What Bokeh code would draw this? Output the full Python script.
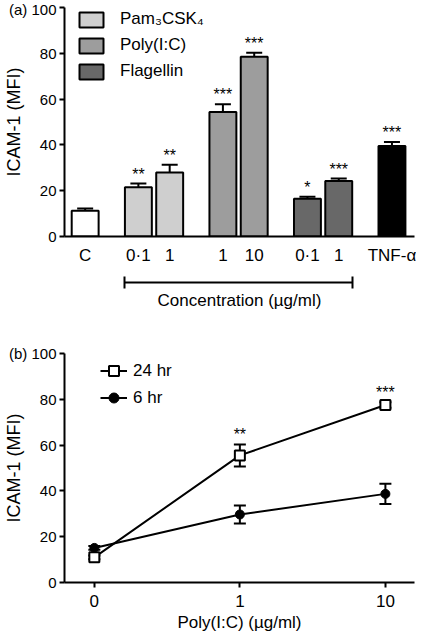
from bokeh.plotting import figure
from bokeh.models import (ColumnDataSource, Whisker, TeeHead, FixedTicker, LinearAxis,
                          Legend, LegendItem, Range1d)
from bokeh.layouts import column
from bokeh.embed import file_html
from bokeh.resources import INLINE
from bokeh.core.properties import value

# ---------------- data: panel (a) ----------------
groups_a = ["Control", "Pam\u2083CSK\u2084", "Poly(I:C)", "Flagellin", "TNF-\u03b1"]
group_of_bar = [0, 1, 1, 2, 2, 3, 3, 4]
tick_labels_a = ["C", "0\u00b71", "1", "1", "10", "0\u00b71", "1", "TNF-\u03b1"]
mfi_a = [11.2, 21.5, 28.0, 54.4, 78.5, 16.5, 24.2, 39.5]
sem_a = [1.0, 1.6, 3.3, 3.3, 1.7, 0.9, 1.1, 1.8]
stars_a = ["", "**", "**", "***", "***", "*", "***", "***"]
group_colors = ["#ffffff", "#cfcfcf", "#9d9d9d", "#686868", "#000000"]
legend_groups = [1, 2, 3]
concentration_groups = [1, 2, 3]
y_ticks = [0, 20, 40, 60, 80, 100]

# ---------------- data: panel (b) ----------------
doses_b = ["0", "1", "10"]
mfi_24h = [11.0, 55.5, 77.5]
sem_24h = [0.8, 4.8, 1.2]
mfi_6h = [15.1, 29.7, 38.7]
sem_6h = [0.8, 3.9, 4.4]
stars_24h = ["", "**", "***"]

FONT = "Liberation Sans"
GROUP_GAP = 0.7
BAR_W = 0.86
FRAME_W = 350
FRAME_H = 229


def style(p, panel_tag):
    p.xgrid.visible = False
    p.ygrid.visible = False
    p.outline_line_color = None
    p.background_fill_color = "white"
    ax = p.yaxis[0]
    ax.ticker = FixedTicker(ticks=y_ticks)
    # panel tag "(a)" / "(b)" sits left of the top tick label, as in the figure
    ax.major_label_overrides = {y_ticks[-1]: f"{panel_tag} {y_ticks[-1]}"}
    ax.axis_line_width = 2
    ax.major_tick_line_width = 2
    ax.major_tick_in = 0
    ax.major_tick_out = 5
    ax.minor_tick_line_color = None
    ax.major_label_text_font = FONT
    ax.major_label_text_font_size = "15px"
    ax.major_label_text_color = "black"
    ax.major_label_standoff = 3
    ax.axis_label = "ICAM-1 (MFI)"
    ax.axis_label_text_font = FONT
    ax.axis_label_text_font_size = "18px"
    ax.axis_label_text_font_style = "normal"
    ax.axis_label_text_color = "black"
    ax.axis_label_standoff = -18
    xa = p.xaxis[0]
    xa.axis_line_width = 2
    xa.major_tick_line_width = 2
    xa.minor_tick_line_color = None
    xa.major_label_text_font = FONT
    xa.major_label_text_font_size = "17px"
    xa.major_label_text_color = "black"
    xa.axis_label_text_font = FONT
    xa.axis_label_text_font_size = "17px"
    xa.axis_label_text_font_style = "normal"
    xa.axis_label_text_color = "black"


# ================= panel (a) =================
pos_a = [i + GROUP_GAP * g for i, g in enumerate(group_of_bar)]
src_a = ColumnDataSource(dict(
    x=pos_a, top=mfi_a, upper=[m + s for m, s in zip(mfi_a, sem_a)],
    color=[group_colors[g] for g in group_of_bar], stars=stars_a))

p1 = figure(frame_width=FRAME_W, frame_height=FRAME_H,
            x_range=Range1d(pos_a[0] - 0.66, pos_a[-1] + 0.72), y_range=Range1d(0, 100),
            output_backend="svg", toolbar_location=None,
            min_border_left=58, min_border_right=2, min_border_top=7, min_border_bottom=0)
style(p1, "(a)")

bars = p1.vbar(x="x", top="top", bottom=0, width=BAR_W, fill_color="color",
               line_color="black", line_width=2, source=src_a)
p1.add_layout(Whisker(source=src_a, base="x", lower="top", upper="upper", line_width=2,
                      upper_head=TeeHead(size=16, line_width=2), lower_head=None))
p1.text(x="x", y="upper", text="stars", source=src_a, text_align="center",
        text_baseline="bottom", y_offset=-1, text_font=value(FONT), text_font_size="16px",
        text_color="black")

xa = p1.xaxis[0]
xa.ticker = FixedTicker(ticks=pos_a)
xa.major_label_overrides = {p: t for p, t in zip(pos_a, tick_labels_a)}
xa.major_tick_in = 0
xa.major_tick_out = 0
xa.major_label_standoff = 9

# empty band between the tick labels and the concentration bracket
gap = LinearAxis(ticker=FixedTicker(ticks=[]), axis_line_color=None, major_tick_in=0,
                 major_tick_out=0, major_tick_line_color=None, minor_tick_line_color=None,
                 major_label_standoff=0, major_label_text_color=None,
                 axis_label="\u00a0", axis_label_text_color=None,
                 axis_label_text_font=FONT, axis_label_text_font_size="11px",
                 axis_label_standoff=0)
p1.add_layout(gap, "below")

conc_pos = [x for x, g in zip(pos_a, group_of_bar) if g in concentration_groups]
b0, b1 = conc_pos[0] - BAR_W / 2, conc_pos[-1] + BAR_W / 2
bracket = LinearAxis(ticker=FixedTicker(ticks=[b0, b1]), bounds=(b0, b1),
                     axis_line_width=2, major_tick_line_width=2, major_tick_in=6,
                     major_tick_out=6, minor_tick_line_color=None,
                     major_label_text_font_size="1px", major_label_text_color=None,
                     major_label_standoff=0,
                     axis_label="Concentration (\u00b5g/ml)", axis_label_standoff=2,
                     axis_label_text_font=FONT, axis_label_text_font_size="17px",
                     axis_label_text_font_style="normal", axis_label_text_color="black")
p1.add_layout(bracket, "below")

items_a = [LegendItem(label=groups_a[g], renderers=[bars], index=group_of_bar.index(g))
           for g in legend_groups]
leg_a = Legend(items=items_a, location=(12, 155), padding=0, margin=0,
               glyph_width=30, glyph_height=19, label_standoff=14, spacing=6,
               label_text_font=FONT, label_text_font_size="17px", label_text_color="black",
               border_line_color=None, background_fill_alpha=0)
p1.add_layout(leg_a)

# ================= panel (b) =================
pos_b = list(range(len(doses_b)))
src24 = ColumnDataSource(dict(x=pos_b, y=mfi_24h,
                              lo=[m - s for m, s in zip(mfi_24h, sem_24h)],
                              hi=[m + s for m, s in zip(mfi_24h, sem_24h)], stars=stars_24h))
src6 = ColumnDataSource(dict(x=pos_b, y=mfi_6h,
                             lo=[m - s for m, s in zip(mfi_6h, sem_6h)],
                             hi=[m + s for m, s in zip(mfi_6h, sem_6h)]))

p2 = figure(frame_width=FRAME_W, frame_height=FRAME_H,
            x_range=Range1d(-0.205, 2.2), y_range=Range1d(0, 100),
            output_backend="svg", toolbar_location=None,
            min_border_left=58, min_border_right=2, min_border_top=41, min_border_bottom=0)
style(p2, "(b)")

l6 = p2.line("x", "y", source=src6, line_width=2, line_color="black")
p2.add_layout(Whisker(source=src6, base="x", lower="lo", upper="hi", line_width=2,
                      upper_head=TeeHead(size=12, line_width=2),
                      lower_head=TeeHead(size=12, line_width=2)))
s6 = p2.scatter("x", "y", source=src6, marker="circle", size=9, fill_color="black",
                line_color="black", line_width=1)
l24 = p2.line("x", "y", source=src24, line_width=2, line_color="black")
p2.add_layout(Whisker(source=src24, base="x", lower="lo", upper="hi", line_width=2,
                      upper_head=TeeHead(size=12, line_width=2),
                      lower_head=TeeHead(size=12, line_width=2)))
s24 = p2.scatter("x", "y", source=src24, marker="square", size=10, fill_color="white",
                 line_color="black", line_width=2)
p2.text(x="x", y="hi", text="stars", source=src24, text_align="center",
        text_baseline="bottom", y_offset=-1, text_font=value(FONT), text_font_size="16px",
        text_color="black")

xb = p2.xaxis[0]
xb.ticker = FixedTicker(ticks=pos_b)
xb.major_label_overrides = {p: t for p, t in zip(pos_b, doses_b)}
xb.major_tick_in = 0
xb.major_tick_out = 5
xb.major_label_standoff = 7
xb.axis_label = "Poly(I:C) (\u00b5g/ml)"
xb.axis_label_standoff = 3

leg_b = Legend(items=[LegendItem(label="24 hr", renderers=[l24, s24]),
                      LegendItem(label="6 hr", renderers=[l6, s6])],
               location=(36, FRAME_H - 5 - 52), padding=0, margin=0,
               glyph_width=27, glyph_height=25, label_standoff=6, spacing=2,
               label_text_font=FONT, label_text_font_size="17px", label_text_color="black",
               border_line_color=None, background_fill_alpha=0)
p2.add_layout(leg_b)

layout = column(p1, p2)
open("out.html", "w").write(file_html(layout, INLINE))
